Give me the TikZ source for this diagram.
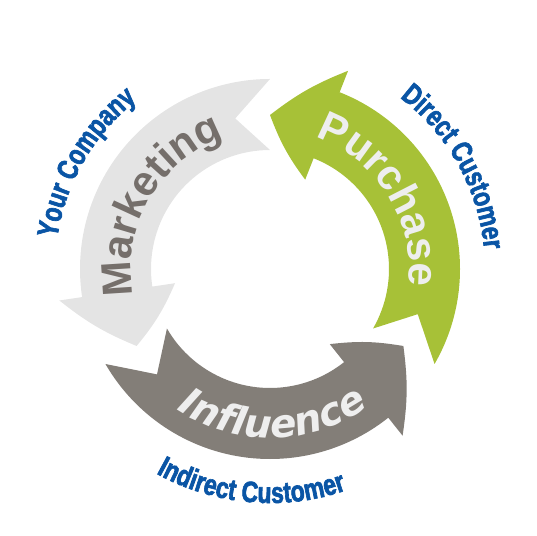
\documentclass[tikz,border=0pt]{standalone}
\usepackage{fontspec}
\setmainfont{Liberation Sans}
\newfontfamily\wideface{DejaVu Sans}
\newfontfamily\narrowface[FakeStretch=0.78, FakeBold=2.2]{Liberation Sans Bold}
\usetikzlibrary{decorations.text}

\definecolor{mktgray}{HTML}{E4E4E4}
\definecolor{mkttext}{HTML}{756F6B}
\definecolor{buygreen}{HTML}{A7C137}
\definecolor{inflgray}{HTML}{837E78}
\definecolor{wordwhite}{HTML}{EEEEEE}
\definecolor{labelblue}{HTML}{0A55A5}

\newcommand\bigword{\fontsize{42}{42}\selectfont\bfseries}
\newcommand\slantword{\wideface\fontsize{39}{39}\selectfont\bfseries\itshape}
\newcommand\blueword{\narrowface\fontsize{29.5}{29.5}\selectfont\color{labelblue}}

\begin{document}
\begin{tikzpicture}[x=1pt, y=1pt,
    curved/.style={decorate, decoration={text along path, text align=center, text={#1}}}]
    \useasboundingbox (0,0) rectangle (537,535);
    \begin{scope}[shift={(270,266)}]
        % Marketing
        \fill[mktgray] (90:190) arc[start angle=90, end angle=188.5, radius=190] -- (188.5:213)
            to[bend right=8] (210:154) to[bend right=8] (188.5:96) -- (188.5:119)
            arc[start angle=188.5, end angle=90, radius=119] -- (103:154.5) -- cycle;
        % Purchase
        \fill[buygreen] (330:190) arc[start angle=330, end angle=428.5, radius=190] -- (68.5:213)
            to[bend right=8] (90:154) to[bend right=8] (68.5:96) -- (68.5:119)
            arc[start angle=428.5, end angle=330, radius=119] -- (343:154.5) -- cycle;
        % Influence
        \fill[inflgray] (210:190) arc[start angle=210, end angle=308.5, radius=190] -- (308.5:213)
            to[bend right=8] (330:154) to[bend right=8] (308.5:96) -- (308.5:119)
            arc[start angle=308.5, end angle=210, radius=119] -- (223:154.5) -- cycle;

        \path[curved={|\bigword\color{mkttext}|Marketing}] (200:139) arc[start angle=200, end angle=100, radius=139];
        \path[curved={|\bigword\color{wordwhite}|Purchase}] (82:139) arc[start angle=82, end angle=-18, radius=139];
        \path[curved={|\slantword\color{wordwhite}|Influence}] (221:169) arc[start angle=221, end angle=321, radius=169];

        \path[curved={|\blueword|Your Company}] (200:215) arc[start angle=200, end angle=100, radius=215];
        \path[curved={|\blueword|Direct Customer}] (79:215) arc[start angle=79, end angle=-21, radius=215];
        \path[curved={|\blueword|Indirect Customer}] (215:234) arc[start angle=215, end angle=315, radius=234];
    \end{scope}
\end{tikzpicture}
\end{document}
